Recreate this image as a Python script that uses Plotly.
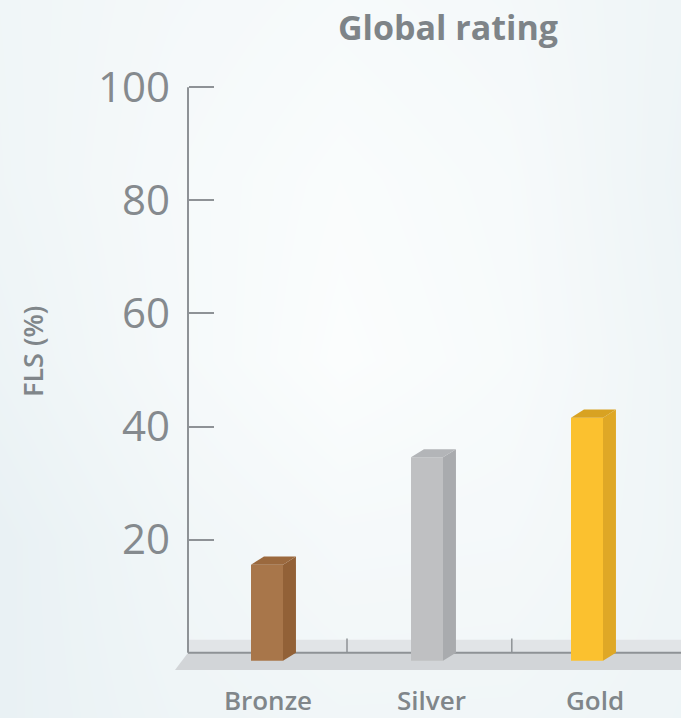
import plotly.graph_objects as go

# Chart data
categories = ["Bronze", "Silver", "Gold"]
fls_values = [17, 36, 43]
bar_colors_front = ["#a8764a", "#bfc0c2", "#fbc12f"]
bar_colors_side = ["#926137", "#a9abae", "#dfa826"]
bar_colors_top = ["#9b693e", "#b3b5b8", "#d8a222"]
y_ticks = [20, 40, 60, 80, 100]
y_title = "FLS (%)"
chart_title = "Global rating"

W, H = 681, 718
positions = list(range(len(categories)))

# 3D look: half width of the front face and depth offsets (axis units)
hw = 0.1
dx = 0.081
dy = 1.42

# Plot-area geometry in pixels (margins are zero, domains set directly)
px_left, px_right = 171, 681
px_top, px_bottom = 76, 681
x_range = [-0.6, -0.6 + (px_right - px_left) / 160.0]
y_range = [-5, 102]
axis_x = -0.49375
grey_line = "#8e9296"
text_grey = "#80868a"

fig = go.Figure()

# Soft background wash
bg_x = [-60, 170, 340, 510, 741]
bg_y = [-60, 180, 360, 540, 778]
bg_z = [
    [0.60, 0.75, 0.82, 0.75, 0.55],
    [0.55, 0.82, 0.95, 0.85, 0.45],
    [0.45, 0.80, 1.00, 0.88, 0.50],
    [0.30, 0.65, 0.80, 0.78, 0.55],
    [0.35, 0.55, 0.62, 0.62, 0.55],
]
fig.add_trace(go.Heatmap(
    x=bg_x, y=bg_y, z=bg_z, zsmooth="best", showscale=False,
    colorscale=[[0, "#dde9ee"], [1, "#fbfdfd"]], zmin=0, zmax=1,
    hoverinfo="skip", xaxis="x", yaxis="y",
))

# Front faces of the bars
fig.add_trace(go.Bar(
    x=positions, y=fls_values, base=[-dy] * len(fls_values), width=2 * hw,
    marker=dict(color=bar_colors_front, line=dict(width=0)),
    xaxis="x2", yaxis="y2", hoverinfo="skip", showlegend=False,
))

# Side and top faces
for p, v, cs, ct in zip(positions, fls_values, bar_colors_side, bar_colors_top):
    x0, x1 = p - hw, p + hw
    fig.add_trace(go.Scatter(
        x=[x1, x1 + dx, x1 + dx, x1, x1], y=[-dy, 0, v, v - dy, -dy],
        fill="toself", fillcolor=cs, mode="lines", line=dict(width=0),
        xaxis="x2", yaxis="y2", hoverinfo="skip", showlegend=False,
    ))
    fig.add_trace(go.Scatter(
        x=[x0, x1, x1 + dx, x0 + dx, x0], y=[v - dy, v - dy, v, v, v - dy],
        fill="toself", fillcolor=ct, mode="lines", line=dict(width=0),
        xaxis="x2", yaxis="y2", hoverinfo="skip", showlegend=False,
    ))

shapes = [
    # floor: back strip and sloping top
    dict(type="rect", xref="x2", yref="y2", x0=axis_x, x1=x_range[1] + 0.1,
         y0=0, y1=2.3, fillcolor="#e1e4e7", line=dict(width=0), layer="below"),
    dict(type="path", xref="x2", yref="y2",
         path=f"M {axis_x},0 L {x_range[1] + 0.1},0 L {x_range[1] + 0.1},-3.05 L -0.575,-3.05 Z",
         fillcolor="#d2d5d8", line=dict(width=0), layer="below"),
    # base line and vertical axis line
    dict(type="line", xref="x2", yref="y2", x0=axis_x, x1=x_range[1] + 0.1,
         y0=0, y1=0, line=dict(color=grey_line, width=2), layer="below"),
    dict(type="line", xref="x2", yref="y2", x0=axis_x, x1=axis_x,
         y0=0, y1=100, line=dict(color=grey_line, width=2), layer="below"),
]
# separators between categories
for sx in [0.5, 1.53]:
    shapes.append(dict(type="line", xref="x2", yref="y2", x0=sx, x1=sx, y0=0, y1=2.5,
                       line=dict(color=grey_line, width=1.5), layer="below"))

fig.update_layout(
    width=W, height=H,
    margin=dict(l=0, r=0, t=0, b=0, pad=0, autoexpand=False),
    paper_bgcolor="#eef4f6",
    plot_bgcolor="rgba(0,0,0,0)",
    showlegend=False,
    shapes=shapes,
    xaxis=dict(domain=[0, 1], range=[0, W], visible=False, fixedrange=True,
               automargin=False),
    yaxis=dict(domain=[0, 1], range=[H, 0], visible=False, fixedrange=True,
               automargin=False),
    xaxis2=dict(
        domain=[px_left / W, px_right / W], anchor="y2", range=x_range,
        tickmode="array", tickvals=[p * 1.022 + 0.006 for p in positions],
        ticktext=categories,
        ticks="", showline=False, showgrid=False, zeroline=False, automargin=False,
        tickfont=dict(family="Open Sans", size=26, color=text_grey, weight=600),
        ticklabelstandoff=2,
    ),
    yaxis2=dict(
        domain=[(H - px_bottom) / H, (H - px_top) / H], anchor="free",
        position=188 / W, range=y_range, automargin=False,
        tickmode="array", tickvals=y_ticks, ticktext=[str(t) for t in y_ticks],
        ticks="inside", ticklen=25, tickwidth=2, tickcolor=grey_line,
        showline=False, showgrid=False, zeroline=False,
        tickfont=dict(family="Open Sans", size=42, color="#858a8e"),
        ticklabelstandoff=18,
    ),
    annotations=[
        dict(text=chart_title, xref="paper", yref="paper", x=448 / W, y=1 - 27 / H,
             xanchor="center", yanchor="middle", showarrow=False,
             font=dict(family="Open Sans", size=34, color="#7e8488", weight="bold")),
        dict(text=y_title, xref="paper", yref="paper", x=33 / W, y=1 - 352 / H,
             xanchor="center", yanchor="middle", showarrow=False, textangle=-90,
             font=dict(family="Open Sans", size=27, color="#80868a", weight=600)),
    ],
)

fig.write_html("out.html")
